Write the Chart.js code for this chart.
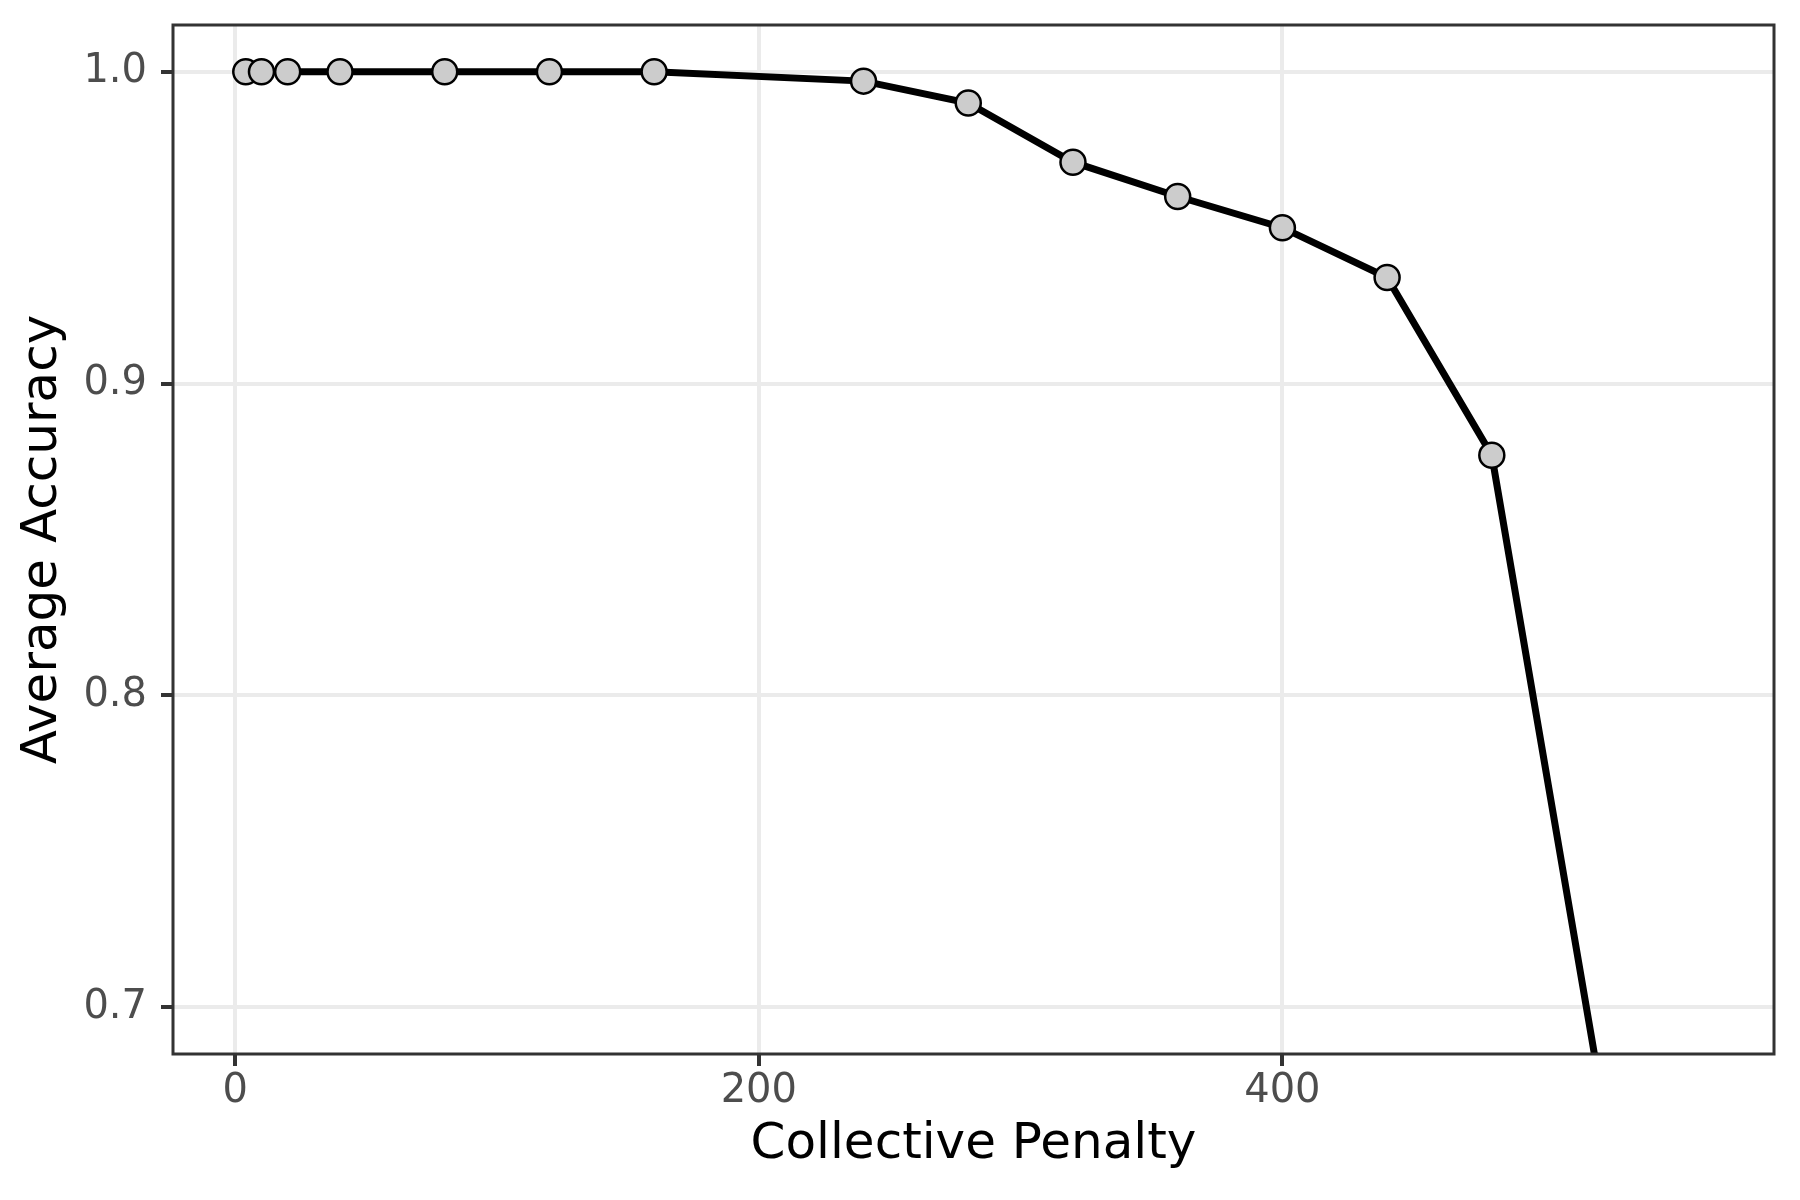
<!DOCTYPE html>
<html>
<head>
<meta charset="utf-8">
<script src="https://cdn.jsdelivr.net/npm/chart.js@4"></script>
<style>
    body { margin: 0; background: #ffffff; }
    canvas { display: block; }
</style>
</head>
<body>
<canvas id="lineChart" width="1800" height="1200"></canvas>
<script>
let penalty = [4, 10, 20, 40, 80, 120, 160, 240, 280, 320, 360, 400, 440, 480, 520];
let accuracy = [1.0, 1.0, 1.0, 1.0, 1.0, 1.0, 1.0, 0.997, 0.990, 0.971, 0.960, 0.950, 0.934, 0.877, 0.681];
let xTicks = [0, 200, 400];
let yTicks = [0.7, 0.8, 0.9, 1.0];
let xTitle = 'Collective Penalty';
let yTitle = 'Average Accuracy';

let fontFamily = "'DejaVu Sans', sans-serif";

// panel border on all four sides, drawn over the data like ggplot does
let panelBorder = {
    id: 'panelBorder',
    afterDatasetsDraw(chart) {
        let area = chart.chartArea;
        let ctx = chart.ctx;
        ctx.save();
        ctx.strokeStyle = '#333333';
        ctx.lineWidth = 3;
        ctx.strokeRect(area.left, area.top, area.right - area.left, area.bottom - area.top);
        ctx.restore();
    }
};

function fixedTicks(values) {
    return function (scale) {
        scale.ticks = values.map(v => ({value: v}));
    };
}

let myChart = new Chart(
        document.getElementById('lineChart'),
        {
            type: 'line',
            data: {
                datasets: [
                    {
                        data: penalty.map((p, i) => ({x: p, y: accuracy[i]})),
                        borderColor: '#000000',
                        borderWidth: 7,
                        pointRadius: 12.5,
                        pointHoverRadius: 12.5,
                        pointBackgroundColor: '#CCCCCC',
                        pointBorderColor: '#000000',
                        pointBorderWidth: 2.5,
                        tension: 0,
                        clip: 0
                    }
                ]
            },
            options: {
                responsive: false,
                animation: false,
                devicePixelRatio: 1,
                layout: {
                    padding: {top: 25, right: 26, left: 0, bottom: 0}
                },
                plugins: {
                    legend: {display: false},
                    tooltip: {enabled: false}
                },
                scales: {
                    x: {
                        type: 'linear',
                        min: -23.8,
                        max: 587.8,
                        afterBuildTicks: fixedTicks(xTicks),
                        afterFit: function (scale) {
                            scale.height = 146;
                            scale.paddingLeft = 0;
                            scale.paddingRight = 0;
                        },
                        border: {display: false},
                        grid: {
                            color: '#EBEBEB',
                            lineWidth: 4,
                            tickColor: '#333333',
                            tickWidth: 4,
                            tickLength: 12
                        },
                        ticks: {
                            color: '#4D4D4D',
                            padding: 2,
                            maxRotation: 0,
                            font: {family: fontFamily, size: 40, lineHeight: 1.2}
                        },
                        title: {
                            display: true,
                            text: xTitle,
                            color: '#000000',
                            padding: {top: 0, bottom: 25},
                            font: {family: fontFamily, size: 50, lineHeight: 1.2}
                        }
                    },
                    y: {
                        type: 'linear',
                        min: 0.685,
                        max: 1.015,
                        afterBuildTicks: fixedTicks(yTicks),
                        afterFit: function (scale) {
                            scale.width = 173;
                            scale.paddingTop = 0;
                            scale.paddingBottom = 0;
                        },
                        border: {display: false},
                        grid: {
                            color: '#EBEBEB',
                            lineWidth: 4,
                            tickColor: '#333333',
                            tickWidth: 4,
                            tickLength: 12
                        },
                        ticks: {
                            color: '#4D4D4D',
                            padding: 14,
                            font: {family: fontFamily, size: 40, lineHeight: 1.2},
                            callback: value => value.toFixed(1)
                        },
                        title: {
                            display: true,
                            text: yTitle,
                            color: '#000000',
                            padding: {top: 13, bottom: 0},
                            font: {family: fontFamily, size: 50, lineHeight: 1.2}
                        }
                    }
                }
            },
            plugins: [panelBorder]
        }
);
</script>
</body>
</html>
